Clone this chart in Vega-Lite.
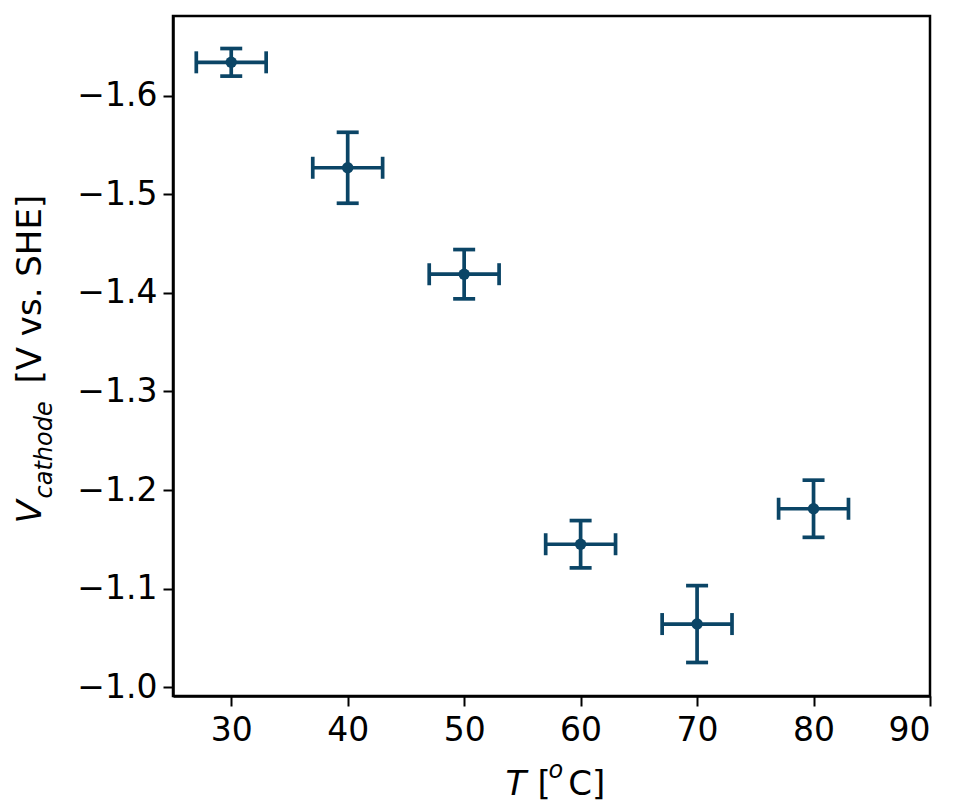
{
  "$schema": "https://vega.github.io/schema/vega-lite/v6.json",
  "autosize": "none",
  "padding": {"left": 173, "top": 16, "right": 25, "bottom": 105},
  "width": 757,
  "height": 680,
  "background": "white",
  "config": {
    "font": "DejaVu Sans",
    "view": {"stroke": "black", "strokeWidth": 2.5},
    "axis": {
      "grid": false,
      "domainColor": "black",
      "domainWidth": 2.5,
      "tickColor": "black",
      "tickWidth": 2,
      "tickSize": 10,
      "labelFont": "DejaVu Sans",
      "labelFontSize": 33,
      "labelColor": "black",
      "titleFont": "DejaVu Sans",
      "titleFontSize": 34,
      "titleFontWeight": "normal",
      "titleColor": "black",
      "titleBaseline": "alphabetic",
      "titleAlign": "left"
    }
  },
  "data": {
    "values": [
      {"T": 30, "Terr": 3, "V": -1.634, "Verr": 0.014},
      {"T": 40, "Terr": 3, "V": -1.527, "Verr": 0.036},
      {"T": 50, "Terr": 3, "V": -1.419, "Verr": 0.025},
      {"T": 60, "Terr": 3, "V": -1.145, "Verr": 0.024},
      {"T": 70, "Terr": 3, "V": -1.064, "Verr": 0.039},
      {"T": 80, "Terr": 3, "V": -1.181, "Verr": 0.029}
    ]
  },
  "resolve": {"scale": {"x": "independent", "y": "independent"}, "axis": {"x": "independent", "y": "independent"}},
  "layer": [
    {
      "mark": {"type": "errorbar", "color": "#0b4566", "thickness": 3.7, "opacity": 1, "ticks": {"size": 22, "thickness": 3.7, "color": "#0b4566", "opacity": 1}},
      "encoding": {
        "x": {
          "field": "T", "type": "quantitative",
          "scale": {"domain": [25, 90], "nice": false, "zero": false},
          "axis": {"orient": "bottom", "values": [30, 40, 50, 60, 70, 80, 90], "format": "d", "labelPadding": 8, "title": "[\u00a0\u2009C]", "titleX": 364, "titleY": 98}
        },
        "y": {
          "field": "V", "type": "quantitative",
          "scale": {"domain": [-1.681, -0.991], "nice": false, "zero": false, "reverse": true},
          "axis": {"orient": "left", "values": [-1.6, -1.5, -1.4, -1.3, -1.2, -1.1, -1.0], "format": ".1f", "labelExpr": "replace(datum.label, '-', '−')", "labelPadding": 6, "title": "[V vs. SHE]", "titleAngle": 270, "titleX": -133, "titleY": 367}
        },
        "yError": {"field": "Verr"}
      }
    },
    {
      "mark": {"type": "errorbar", "color": "#0b4566", "thickness": 3.7, "opacity": 1, "ticks": {"size": 22, "thickness": 3.7, "color": "#0b4566", "opacity": 1}},
      "encoding": {
        "x": {
          "field": "T", "type": "quantitative",
          "scale": {"domain": [25, 90], "nice": false, "zero": false},
          "axis": {"orient": "bottom", "labels": false, "ticks": false, "domain": false, "title": "T", "titleFontStyle": "italic", "titleX": 332, "titleY": 98}
        },
        "y": {
          "field": "V", "type": "quantitative",
          "scale": {"domain": [-1.681, -0.991], "nice": false, "zero": false, "reverse": true},
          "axis": {"orient": "left", "labels": false, "ticks": false, "domain": false, "title": "V", "titleFontStyle": "italic", "titleAngle": 270, "titleX": -133, "titleY": 507}
        },
        "xError": {"field": "Terr"}
      }
    },
    {
      "mark": {"type": "point", "filled": true, "color": "#0b4566", "opacity": 1, "size": 130},
      "encoding": {
        "x": {
          "field": "T", "type": "quantitative",
          "scale": {"domain": [25, 90], "nice": false, "zero": false},
          "axis": {"orient": "bottom", "labels": false, "ticks": false, "domain": false, "title": "o", "titleFontSize": 24, "titleFontStyle": "italic", "titleX": 375, "titleY": 81}
        },
        "y": {
          "field": "V", "type": "quantitative",
          "scale": {"domain": [-1.681, -0.991], "nice": false, "zero": false, "reverse": true},
          "axis": {"orient": "left", "labels": false, "ticks": false, "domain": false, "title": "cathode", "titleFontSize": 24, "titleFontStyle": "italic", "titleAngle": 270, "titleX": -122, "titleY": 482}
        }
      }
    }
  ]
}
